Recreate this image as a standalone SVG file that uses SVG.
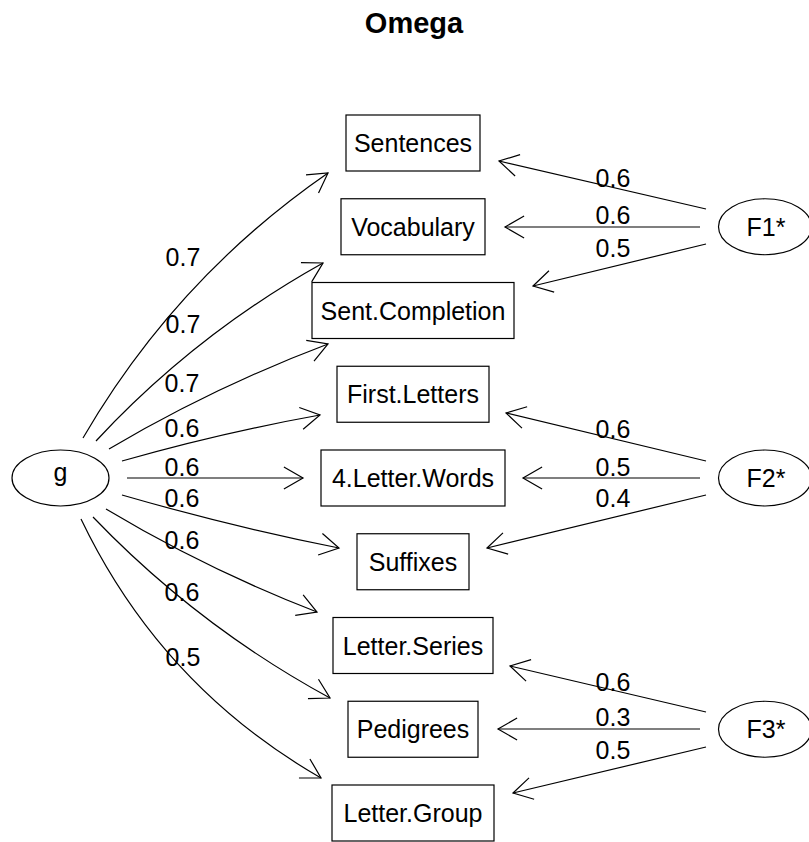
<svg xmlns="http://www.w3.org/2000/svg" width="809" height="842" viewBox="0 0 809 842">
<style>
text{font-family:"Liberation Sans",Arial,Helvetica,sans-serif;font-size:25px;fill:#000;text-anchor:middle}
.title{font-size:29px;font-weight:bold}
.box{fill:#fff;stroke:#000;stroke-width:1.2}
.ell{fill:#fff;stroke:#000;stroke-width:1.2}
.con{fill:none;stroke:#000;stroke-width:1.2;marker-end:url(#ah)}
</style>
<defs>
<marker id="ah" markerUnits="userSpaceOnUse" markerWidth="30" markerHeight="30" viewBox="-25 -15 30 30" refX="0" refY="0" orient="auto" overflow="visible">
<path d="M-19.1,-11 L0,0 L-19.1,11" fill="none" stroke="#000" stroke-width="1.2"/>
</marker>
</defs>
<rect width="809" height="842" fill="#fff"/>
<text class="title" x="414" y="33">Omega</text>
<g id="connectors">
<path class="con" d="M83,438 Q176,278 328,173"/>
<path class="con" d="M96,441 Q195.5,334 323,263"/>
<path class="con" d="M109,449 Q214,387 328,344"/>
<path class="con" d="M122,461 Q220,433 320,415"/>
<path class="con" d="M127,478 L303,478"/>
<path class="con" d="M122,495 Q229,526 339,548"/>
<path class="con" d="M106,509 Q207,569.5 317,612"/>
<path class="con" d="M93,517 Q197.5,626 330,698"/>
<path class="con" d="M81,519 Q161,686 321,778"/>
<path class="con" d="M706,209 L499,161"/>
<path class="con" d="M700,227 L505,227"/>
<path class="con" d="M706,244 L533,286"/>
<path class="con" d="M706,461 L506,413"/>
<path class="con" d="M700,478 L523,478"/>
<path class="con" d="M706,495 L487,548"/>
<path class="con" d="M706,712 L510,666"/>
<path class="con" d="M700,729 L498,729"/>
<path class="con" d="M706,747 L513,793"/>
<text x="183" y="266">0.7</text>
<text x="183" y="333">0.7</text>
<text x="182" y="392">0.7</text>
<text x="182" y="437">0.6</text>
<text x="182" y="476">0.6</text>
<text x="182" y="507">0.6</text>
<text x="182" y="549">0.6</text>
<text x="182" y="601">0.6</text>
<text x="183" y="666">0.5</text>
<text x="613" y="187">0.6</text>
<text x="613" y="224">0.6</text>
<text x="613" y="257">0.5</text>
<text x="613" y="438">0.6</text>
<text x="613" y="476">0.5</text>
<text x="613" y="507">0.4</text>
<text x="613" y="691">0.6</text>
<text x="613" y="726">0.3</text>
<text x="613" y="759">0.5</text>
</g>
<g id="g"><ellipse class="ell" cx="60.5" cy="478" rx="48.5" ry="28"/><text x="60.5" y="481">g</text></g>
<g id="F1"><ellipse class="ell" cx="765" cy="226.75" rx="46.5" ry="28"/><text x="766" y="235.75">F1*</text></g>
<g id="F2"><ellipse class="ell" cx="765" cy="478" rx="46.5" ry="28"/><text x="766" y="487">F2*</text></g>
<g id="F3"><ellipse class="ell" cx="765" cy="729.25" rx="46.5" ry="28"/><text x="766" y="738.25">F3*</text></g>
<g id="Sentences"><rect class="box" x="346" y="115" width="134" height="56"/><text x="413" y="152">Sentences</text></g>
<g id="Vocabulary"><rect class="box" x="341" y="198.75" width="144" height="56"/><text x="413" y="235.75">Vocabulary</text></g>
<g id="SentCompletion"><rect class="box" x="312" y="282.5" width="202" height="56"/><text x="413" y="319.5">Sent.Completion</text></g>
<g id="FirstLetters"><rect class="box" x="337" y="366.25" width="152" height="56"/><text x="413" y="403.25">First.Letters</text></g>
<g id="LetterWords"><rect class="box" x="321" y="450" width="184" height="56"/><text x="413" y="487">4.Letter.Words</text></g>
<g id="Suffixes"><rect class="box" x="357" y="533.75" width="112" height="56"/><text x="413" y="570.75">Suffixes</text></g>
<g id="LetterSeries"><rect class="box" x="333" y="617.5" width="160" height="56"/><text x="413" y="654.5">Letter.Series</text></g>
<g id="Pedigrees"><rect class="box" x="348" y="701.25" width="130" height="56"/><text x="413" y="738.25">Pedigrees</text></g>
<g id="LetterGroup"><rect class="box" x="332" y="785" width="162" height="56"/><text x="413" y="822">Letter.Group</text></g>
</svg>
